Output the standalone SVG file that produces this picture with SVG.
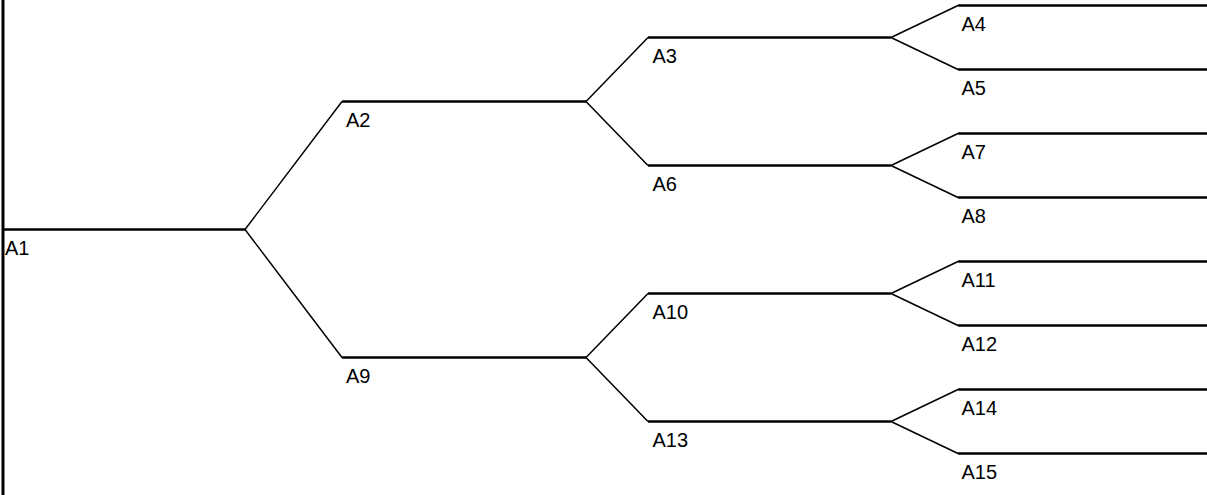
<svg xmlns="http://www.w3.org/2000/svg" width="1207" height="495" viewBox="0 0 1207 495">
<style>
.b{stroke:#000;stroke-width:2.5;fill:none}
.c{stroke:#000;stroke-width:1.5;fill:none}
text{font-family:"Liberation Sans",Arial,sans-serif;font-size:20px;fill:#000}
</style>
<rect width="1207" height="495" fill="#fff"/>
<line x1="3" y1="0" x2="3" y2="495" stroke="#000" stroke-width="3"/>
<g id="connectors">
<path class="c" d="M245,229.5 L342,101.5 M245,229.5 L342,357.5"/>
<path class="c" d="M586,101.5 L648,37.5 M586,101.5 L648,165.5"/>
<path class="c" d="M586,357.5 L648,293.5 M586,357.5 L648,421.5"/>
<path class="c" d="M891,37.5 L958,5.5 M891,37.5 L958,69.5"/>
<path class="c" d="M891,165.5 L958,133.5 M891,165.5 L958,197.5"/>
<path class="c" d="M891,293.5 L958,261.5 M891,293.5 L958,325.5"/>
<path class="c" d="M891,421.5 L958,389.5 M891,421.5 L958,453.5"/>
</g>
<g id="A1"><line class="b" x1="3" y1="229.5" x2="245" y2="229.5"/><text x="5" y="254.5">A1</text></g>
<g id="A2"><line class="b" x1="342" y1="101.5" x2="586" y2="101.5"/><text x="346" y="126.5">A2</text></g>
<g id="A9"><line class="b" x1="342" y1="357.5" x2="586" y2="357.5"/><text x="346" y="382.5">A9</text></g>
<g id="A3"><line class="b" x1="648" y1="37.5" x2="891" y2="37.5"/><text x="652.5" y="62.5">A3</text></g>
<g id="A6"><line class="b" x1="648" y1="165.5" x2="891" y2="165.5"/><text x="652.5" y="190.5">A6</text></g>
<g id="A10"><line class="b" x1="648" y1="293.5" x2="891" y2="293.5"/><text x="652.5" y="318.5">A10</text></g>
<g id="A13"><line class="b" x1="648" y1="421.5" x2="891" y2="421.5"/><text x="652.5" y="446.5">A13</text></g>
<g id="A4"><line class="b" x1="958" y1="5.5" x2="1207" y2="5.5"/><text x="961.5" y="30.5">A4</text></g>
<g id="A5"><line class="b" x1="958" y1="69.5" x2="1207" y2="69.5"/><text x="961.5" y="94.5">A5</text></g>
<g id="A7"><line class="b" x1="958" y1="133.5" x2="1207" y2="133.5"/><text x="961.5" y="158.5">A7</text></g>
<g id="A8"><line class="b" x1="958" y1="197.5" x2="1207" y2="197.5"/><text x="961.5" y="222.5">A8</text></g>
<g id="A11"><line class="b" x1="958" y1="261.5" x2="1207" y2="261.5"/><text x="961.5" y="286.5">A11</text></g>
<g id="A12"><line class="b" x1="958" y1="325.5" x2="1207" y2="325.5"/><text x="961.5" y="350.5">A12</text></g>
<g id="A14"><line class="b" x1="958" y1="389.5" x2="1207" y2="389.5"/><text x="961.5" y="414.5">A14</text></g>
<g id="A15"><line class="b" x1="958" y1="453.5" x2="1207" y2="453.5"/><text x="961.5" y="478.5">A15</text></g>
</svg>
